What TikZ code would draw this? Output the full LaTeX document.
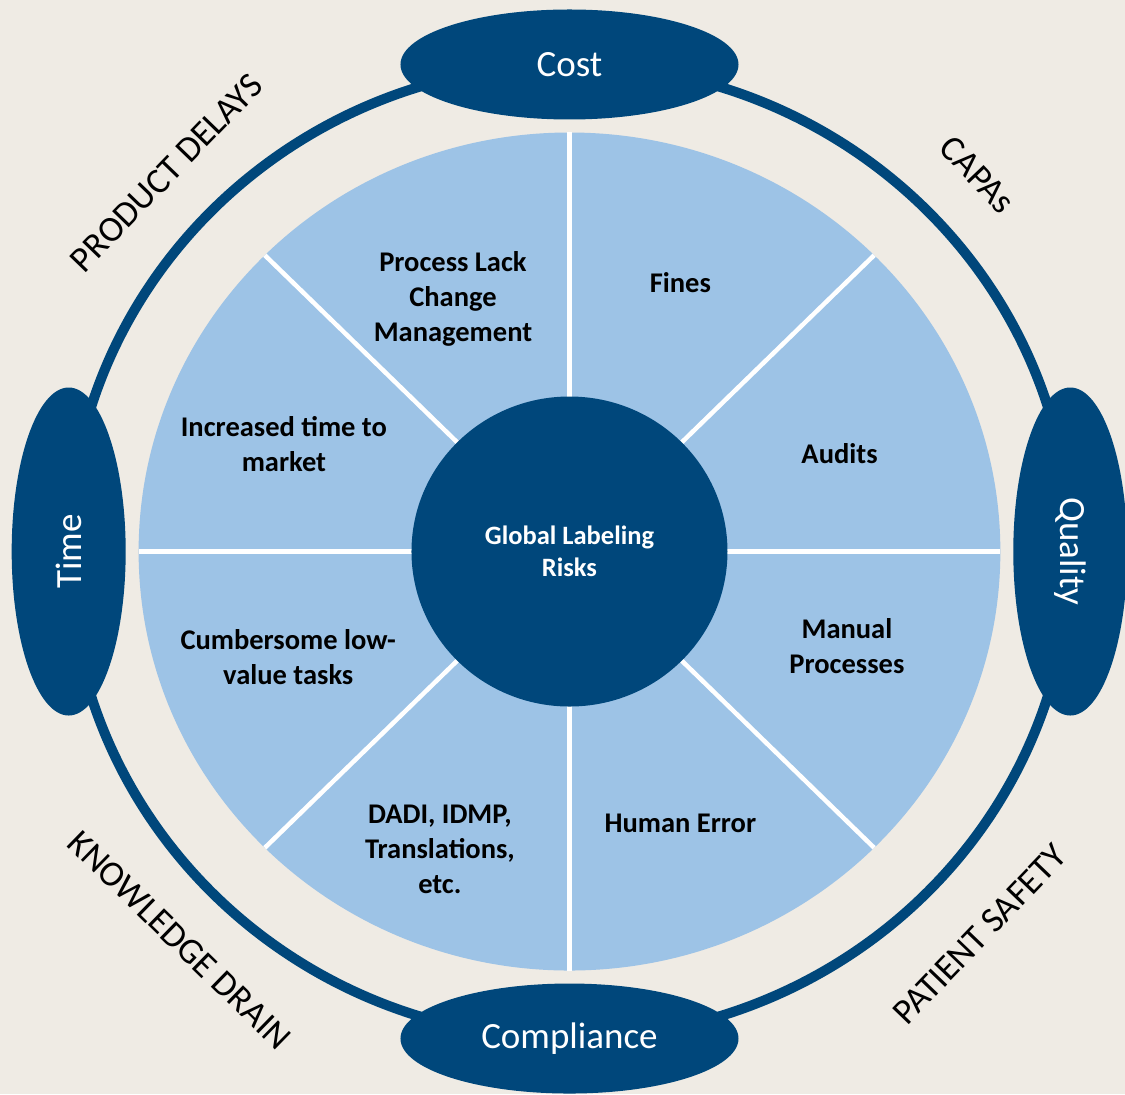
\documentclass[tikz,border=0pt]{standalone}
\usepackage{fontspec}
\setmainfont{Carlito}
\usepackage{xcolor}
\usepackage{tikz}
\usetikzlibrary{shapes.geometric}

\definecolor{riskblue}{RGB}{0,71,123}
\definecolor{risklight}{RGB}{157,195,230}
\definecolor{riskbg}{RGB}{239,235,228}

\begin{document}
\begin{tikzpicture}[x=1pt, y=1pt, xscale=1.0283,
    pole/.style={ellipse, fill=riskblue, text=white, inner sep=0pt, font=\fontsize{37}{44}\selectfont},
    risk/.style={align=center, inner sep=0pt, font=\bfseries\fontsize{28.5}{35}\selectfont},
    threat/.style={inner sep=0pt, font=\fontsize{36}{43}\selectfont}]
        \fill[riskbg] (-553.8, -542.5) rectangle (540.2, 551.5);
        \useasboundingbox (-553.8, -542.5) rectangle (540.2, 551.5);
        \coordinate (mid) at (0, 0);

        \draw[riskblue, line width=10pt] (mid) circle (487);

        \node[pole, minimum width=338pt, minimum height=110pt] (cost) at (90:487) {Cost};
        \node[pole, minimum width=338pt, minimum height=110pt] (compliance) at (270:487) {Compliance};
        \node[pole, rotate=90, minimum width=328pt, minimum height=114pt] (time) at (180:487) {Time};
        \node[pole, rotate=-90, minimum width=328pt, minimum height=114pt] (quality) at (0:487) {Quality};

        \fill[risklight] (mid) circle (419);
        \foreach \a in {0, 45, ..., 315}
            \draw[white, line width=4.5pt] (mid) -- (\a:419);

        \node[ellipse, fill=riskblue, text=white, inner sep=0pt, minimum width=316pt, minimum height=310pt,
            align=center, font=\bfseries\fontsize{26.5}{32.5}\selectfont] (hub) at (mid) {Global Labeling\\Risks};

        \node[risk] (lack) at (-113.3, 252.5) {Process Lack\\Change\\Management};
        \node[risk] (fines) at (107.8, 268.5) {Fines};
        \node[risk] (market) at (-277.7, 107.5) {Increased time to\\market};
        \node[risk] (audits) at (262.6, 97.5) {Audits};
        \node[risk] (tasks) at (-273.5, -105.5) {Cumbersome low-\\value tasks};
        \node[risk] (manual) at (269.8, -94.2) {Manual\\Processes};
        \node[risk] (dadi) at (-126, -297.5) {DADI, IDMP,\\Translations,\\etc.};
        \node[risk] (error) at (107.8, -271.5) {Human Error};

        \node[threat, rotate=46] (delays) at (136:545) {PRODUCT DELAYS};
        \node[threat, rotate=-46.5] (capas) at (43.5:547) {CAPAs};
        \node[threat, rotate=-44.3] (drain) at (225.7:543) {KNOWLEDGE DRAIN};
        \node[threat, rotate=46.2] (safety) at (-43.8:553) {PATIENT SAFETY};
\end{tikzpicture}
\end{document}
